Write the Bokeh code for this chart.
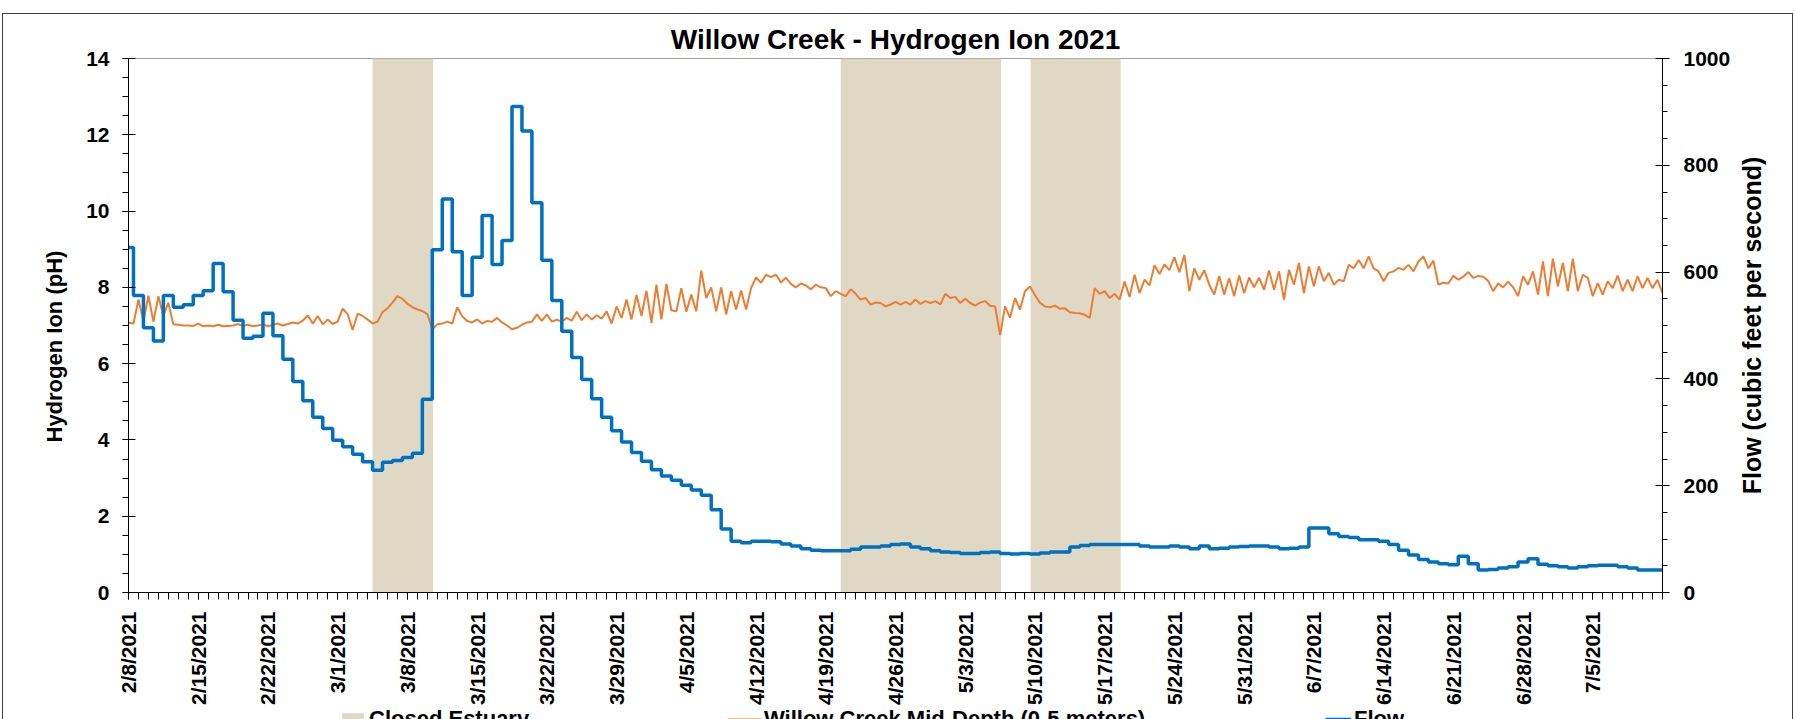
import math
import pandas as pd
from bokeh.plotting import figure
from bokeh.layouts import column, row
from bokeh.models import (Range1d, LinearAxis, SingleIntervalTicker, FixedTicker,
                          DatetimeTickFormatter, Legend, LegendItem, Title, InlineStyleSheet)
from bokeh.embed import file_html
from bokeh.resources import INLINE

# ---------------- data ----------------
title_text = "Willow Creek - Hydrogen Ion 2021"
left_label = "Hydrogen Ion (pH)"
right_label = "Flow (cubic feet per second)"
legend_labels = ["Closed Estuary", "Willow Creek Mid-Depth (0-5 meters)", "Flow"]

closed_start = ["2021-03-04 12:00", "2021-04-20 12:00", "2021-05-09 13:30"]
closed_end = ["2021-03-10 14:00", "2021-05-06 14:30", "2021-05-18 14:30"]

tick_dates = ["2021-02-08", "2021-02-15", "2021-02-22", "2021-03-01", "2021-03-08", "2021-03-15",
              "2021-03-22", "2021-03-29", "2021-04-05", "2021-04-12", "2021-04-19", "2021-04-26",
              "2021-05-03", "2021-05-10", "2021-05-17", "2021-05-24", "2021-05-31", "2021-06-07",
              "2021-06-14", "2021-06-21", "2021-06-28", "2021-07-05"]
tick_labels = ["2/8/2021", "2/15/2021", "2/22/2021", "3/1/2021", "3/8/2021", "3/15/2021",
               "3/22/2021", "3/29/2021", "4/5/2021", "4/12/2021", "4/19/2021", "4/26/2021",
               "5/3/2021", "5/10/2021", "5/17/2021", "5/24/2021", "5/31/2021", "6/7/2021",
               "6/14/2021", "6/21/2021", "6/28/2021", "7/5/2021"]

# pH, twice a day from 2021-02-08 00:00 (one row per week)
ph_start = "2021-02-08 00:00"
ph_values = [
    7.07, 7.05, 7.68, 7.11, 7.78, 7.10, 7.77, 7.25, 7.60, 7.03, 7.02, 7.00, 7.00, 6.99,
    7.05, 6.98, 7.00, 6.98, 7.02, 6.98, 6.99, 7.00, 7.04, 6.99, 7.02, 6.98, 7.00, 7.03,
    6.98, 7.02, 7.05, 7.00, 7.04, 7.08, 7.05, 7.13, 7.26, 7.05, 7.25, 7.03, 7.16, 7.04,
    7.10, 7.44, 7.30, 6.88, 7.31, 7.25, 7.16, 7.05, 7.10, 7.35, 7.45, 7.60, 7.77, 7.70,
    7.57, 7.48, 7.42, 7.38, 7.30, 6.90, 7.03, 7.05, 7.10, 7.05, 7.48, 7.24, 7.12, 7.08,
    7.16, 7.05, 7.12, 7.10, 7.20, 7.08, 7.00, 6.90, 6.94, 7.02, 7.08, 7.10, 7.29, 7.12,
    7.29, 7.10, 7.15, 7.10, 7.20, 7.13, 7.36, 7.14, 7.29, 7.16, 7.27, 7.18, 7.37, 7.05,
    7.50, 7.20, 7.68, 7.16, 7.80, 7.25, 7.91, 7.07, 8.07, 7.16, 8.09, 7.40, 7.37, 7.98,
    7.36, 7.81, 7.37, 8.44, 7.72, 8.00, 7.37, 8.00, 7.29, 7.90, 7.42, 7.92, 7.42, 7.98,
    8.26, 8.12, 8.33, 8.27, 8.33, 8.13, 8.25, 8.09, 8.00, 8.10, 8.05, 7.95, 8.07, 8.00,
    7.98, 7.77, 7.90, 7.83, 7.77, 7.95, 7.83, 7.68, 7.72, 7.55, 7.60, 7.59, 7.50, 7.55,
    7.62, 7.55, 7.62, 7.55, 7.68, 7.57, 7.64, 7.59, 7.64, 7.55, 7.83, 7.72, 7.75, 7.59,
    7.70, 7.59, 7.52, 7.60, 7.64, 7.52, 7.50, 6.75, 7.50, 7.20, 7.72, 7.42, 7.90, 8.02,
    7.80, 7.60, 7.50, 7.48, 7.52, 7.44, 7.45, 7.35, 7.33, 7.32, 7.28, 7.20, 7.98, 7.83,
    7.90, 7.72, 7.83, 7.68, 8.15, 7.75, 8.33, 7.85, 8.20, 8.05, 8.58, 8.35, 8.60, 8.45,
    8.79, 8.40, 8.85, 7.90, 8.50, 8.20, 8.45, 8.07, 7.81, 8.30, 7.81, 8.24, 7.77, 8.31,
    7.85, 8.26, 8.00, 8.25, 7.94, 8.44, 7.94, 8.42, 7.68, 8.46, 8.07, 8.64, 7.85, 8.55,
    8.03, 8.55, 8.16, 8.38, 8.07, 8.20, 8.16, 8.59, 8.50, 8.72, 8.50, 8.81, 8.50, 8.42,
    8.16, 8.38, 8.42, 8.51, 8.46, 8.59, 8.42, 8.68, 8.81, 8.50, 8.70, 8.07, 8.12, 8.10,
    8.30, 8.20, 8.28, 8.40, 8.25, 8.30, 8.28, 8.17, 7.90, 8.10, 8.00, 8.15, 8.00, 7.77,
    8.29, 8.07, 8.42, 7.81, 8.68, 7.77, 8.75, 8.03, 8.64, 7.90, 8.75, 7.90, 8.33, 8.25,
    7.77, 8.11, 7.81, 8.16, 7.98, 8.31, 7.90, 8.20, 7.90, 8.29, 7.98, 8.25, 7.98, 8.20,
    7.85,
]

# daily flow (cfs), each value starting at noon, from 2021-02-07 12:00 (one row per week)
flow_start = "2021-02-07 12:00"
flow_values = [
    646, 556, 496, 471, 556, 534, 539,
    556, 565, 616, 563, 510, 476, 480,
    523, 481, 437, 395, 359, 328, 307,
    285, 273, 259, 245, 229, 244, 247,
    253, 261, 362, 642, 737, 638, 556,
    628, 706, 614, 659, 910, 864, 730,
    622, 547, 489, 440, 399, 363, 328,
    303, 282, 262, 246, 230, 218, 210,
    201, 192, 182, 155, 119, 96, 93,
    96, 96, 95, 91, 87, 82, 79,
    78, 78, 78, 81, 85, 85, 87,
    90, 91, 85, 82, 78, 76, 75,
    73, 73, 75, 76, 73, 72, 73,
    72, 74, 76, 76, 85, 88, 90,
    90, 90, 90, 90, 87, 85, 85,
    87, 85, 82, 87, 82, 83, 85,
    86, 87, 87, 85, 82, 83, 85,
    121, 121, 110, 105, 103, 99, 99,
    96, 90, 79, 70, 62, 57, 54,
    52, 68, 54, 42, 43, 46, 48,
    57, 63, 53, 50, 48, 46, 48,
    50, 51, 51, 48, 46, 42, 42,
    42, 42,
]

x_start, x_end = "2021-02-08", "2021-07-12"

# ---------------- styling ----------------
FONT = "Liberation Sans"
ORANGE = "#ED7D31"
BLUE = "#0070C0"
BEIGE = "#DFD8C4"

W_TOTAL = 1795
W_MAIN, W_SIDE = 1735, 60
H_MAIN, H_LEG = 707, 12
FL, FR, FT, FB = 128, 1662, 58, 594  # frame edges on the main canvas


def ms(s):
    return pd.Timestamp(s).value / 1e6


ph_dates = pd.date_range(ph_start, periods=len(ph_values), freq="12h")
flow_dates = pd.date_range(flow_start, periods=len(flow_values), freq="D")
closed_left = [ms(s) for s in closed_start]
closed_right = [ms(e) for e in closed_end]

p = figure(width=W_MAIN, height=H_MAIN, x_axis_type="datetime", output_backend="svg",
           toolbar_location=None,
           x_range=Range1d(pd.Timestamp(x_start), pd.Timestamp(x_end)),
           y_range=Range1d(0, 14),
           min_border_left=FL, min_border_right=W_MAIN - FR,
           min_border_top=FT, min_border_bottom=H_MAIN - FB)
p.extra_y_ranges = {"flow": Range1d(0, 1000)}
p.grid.visible = False
p.background_fill_color = "white"
p.border_fill_color = "white"
p.outline_line_color = "#A0A0A0"
p.outline_line_width = 1

closed_r = p.quad(left=closed_left, right=closed_right, bottom=0, top=14,
                  fill_color=BEIGE, line_color=None)
ph_r = p.line(ph_dates, ph_values, line_color=ORANGE, line_width=2)
flow_r = p.step(flow_dates, flow_values, mode="after", line_color=BLUE, line_width=3.5,
                y_range_name="flow")


def style_axis(ax):
    ax.axis_line_color = "black"
    ax.major_tick_line_color = "black"
    ax.minor_tick_line_color = "black"
    ax.major_label_text_font = FONT
    ax.major_label_text_font_style = "bold"
    ax.major_label_text_font_size = "21px"
    ax.major_label_text_color = "black"


# left axis
ya = p.yaxis[0]
ya.ticker = SingleIntervalTicker(interval=2, num_minor_ticks=4)
style_axis(ya)
ya.major_tick_out = 6
ya.major_tick_in = 7
ya.minor_tick_out = 6
ya.minor_tick_in = 0
ya.major_label_standoff = 13

# right axis
ra = LinearAxis(y_range_name="flow", ticker=SingleIntervalTicker(interval=200, num_minor_ticks=4))
style_axis(ra)
ra.major_tick_out = 7
ra.major_tick_in = 7
ra.minor_tick_out = 5
ra.minor_tick_in = 0
ra.major_label_standoff = 14
p.add_layout(ra, "right")

# bottom axis
xa = p.xaxis[0]
tick_ms = [ms(d) for d in tick_dates]
minor_ms = [ms(d) for d in pd.date_range(x_start, x_end, freq="D")]
xa.ticker = FixedTicker(ticks=tick_ms, minor_ticks=minor_ms)
fmt = "%-m/%-d/%Y"
xa.formatter = DatetimeTickFormatter(days=fmt, months=fmt, years=fmt, hours=fmt, hourmin=fmt)
xa.major_label_overrides = {t: lab for t, lab in zip(tick_ms, tick_labels)}
style_axis(xa)
xa.major_label_orientation = math.pi / 2
xa.major_tick_out = 7
xa.major_tick_in = 0
xa.minor_tick_out = 7
xa.minor_tick_in = 0
xa.major_label_standoff = 12

# chart title (adjacent to the frame) and left axis title
p.add_layout(Title(text=title_text, align="center", text_font=FONT, text_font_style="bold",
                   text_font_size="28px", text_color="black", standoff=7), "above")
p.add_layout(Title(text=left_label, align="left", offset=150, text_font=FONT,
                   text_font_style="bold", text_font_size="22px", text_color="black",
                   standoff=33), "left")

# ---------------- right axis title strip ----------------
side = figure(width=W_SIDE, height=H_MAIN, output_backend="svg", toolbar_location=None,
              min_border_left=30, min_border_right=0, min_border_top=FT,
              min_border_bottom=H_MAIN - FB, x_axis_location=None, y_axis_location=None)
side.grid.visible = False
side.outline_line_color = None
side.background_fill_color = "white"
side.border_fill_color = "white"
side.add_layout(Title(text=right_label, align="center", text_font=FONT, text_font_style="bold",
                      text_font_size="25px", text_color="black", standoff=0), "left")

# ---------------- legend strip (bottom edge; only its upper part is visible) ----------------
leg = figure(width=W_TOTAL, height=H_LEG, output_backend="svg", toolbar_location=None,
             min_border_left=FL, min_border_right=W_TOTAL - FR, min_border_top=0,
             min_border_bottom=0, x_axis_location=None, y_axis_location=None,
             x_range=Range1d(pd.Timestamp(x_start), pd.Timestamp(x_end)),
             y_range=Range1d(2000, 2001))
leg.extra_y_ranges = {"flow": Range1d(2000, 2001)}
leg.grid.visible = False
leg.outline_line_color = None
leg.background_fill_color = "white"
leg.border_fill_color = "white"
# same series as the chart, kept outside this strip's visible range: only the legend keys show
k_closed = leg.quad(left=closed_left, right=closed_right, bottom=0, top=14,
                    fill_color=BEIGE, line_color=None)
k_ph = leg.line(ph_dates, ph_values, line_color=ORANGE, line_width=2)
k_flow = leg.line(flow_dates, flow_values, line_color=BLUE, line_width=3.5, y_range_name="flow")

leg_spec = [(k_closed, 339 - FL, 27), (k_ph, 727 - FL, 34), (k_flow, 1325 - FL, 26)]
for (rend, lx, gw), lab in zip(leg_spec, legend_labels):
    lg = Legend(items=[LegendItem(label=lab, renderers=[rend])], location=(lx, -13),
                orientation="horizontal", padding=0, margin=0, spacing=0,
                glyph_width=gw, glyph_height=16, label_standoff=3, label_height=20,
                label_text_font=FONT, label_text_font_style="bold",
                label_text_font_size="22px", label_text_color="black",
                background_fill_alpha=0, border_line_alpha=0)
    leg.add_layout(lg, "center")

# thin outer chart-area border (top and sides), drawn over the canvases
border_css = InlineStyleSheet(css="""
:host { position: relative; }
:host::after {
  content: ""; position: absolute; left: 2px; top: 13px; width: 1791px; height: 706px;
  box-sizing: border-box; border: 1px solid #404040; border-bottom: none;
  pointer-events: none; z-index: 10;
}
""")

page = column(row(p, side, spacing=0), leg, spacing=0, stylesheets=[border_css])
open("out.html", "w").write(file_html(page, INLINE))
